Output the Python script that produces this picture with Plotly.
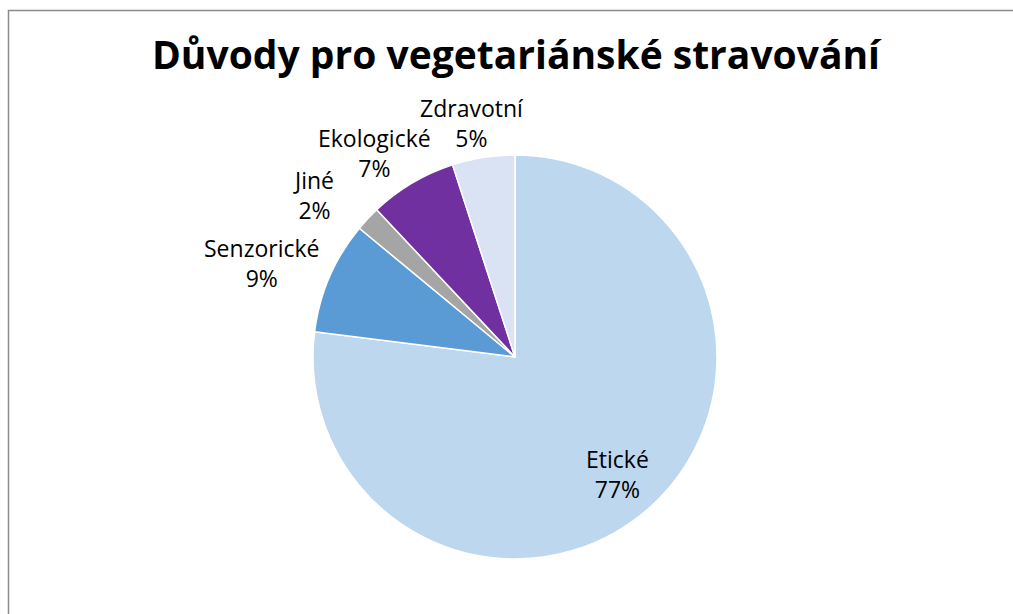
import math
import plotly.graph_objects as go

categories = ["Etické", "Senzorické", "Jiné", "Ekologické", "Zdravotní"]
values = [77, 9, 2, 7, 5]
colors = ["#BDD7EE", "#5B9BD5", "#A5A5A5", "#7030A0", "#DAE3F3"]
label_inside = [True, False, False, False, False]
title_text = "Důvody pro vegetariánské stravování"

W, H = 1013, 614
cx, cy, r = 515, 357, 202
FONT = "Open Sans, Lato, sans-serif"
LABEL_SIZE = 23

fig = go.Figure(go.Pie(
    labels=categories,
    values=values,
    sort=False,
    direction="clockwise",
    rotation=0,
    marker=dict(colors=colors, line=dict(color="white", width=1.5)),
    textinfo="none",
    showlegend=False,
    hoverinfo="label+percent",
    domain=dict(x=[(cx - r) / W, (cx + r) / W], y=[1 - (cy + r) / H, 1 - (cy - r) / H]),
))

# data labels placed along each slice's bisector (Excel-like)
total = sum(values)
annotations = []
cum = 0.0
box_w, box_h = 130, 52
for lab, v, inside in zip(categories, values, label_inside):
    mid = (cum + v / 2) / total
    cum += v
    a = 2 * math.pi * mid
    ux, uy = math.sin(a), -math.cos(a)
    if inside:
        R = 0.77 * r
        px, py = cx + R * ux, cy + R * uy
    else:
        R = r + 9
        px = cx + R * ux + ux * box_w / 2
        py = cy + R * uy + uy * box_h / 2
    annotations.append(dict(
        x=px / W, y=1 - py / H, xref="paper", yref="paper",
        xanchor="center", yanchor="middle", showarrow=False,
        text=f"{lab}<br>{round(100 * v / total)}%",
        font=dict(family=FONT, size=LABEL_SIZE, color="#000000"),
    ))

fig.update_layout(
    width=W, height=H,
    margin=dict(l=0, r=0, t=0, b=0),
    paper_bgcolor="white",
    title=dict(text="<b>" + title_text + "</b>", x=516 / W, xanchor="center",
               y=1 - 55 / H, yanchor="middle",
               font=dict(family=FONT, size=39, color="#000000")),
    annotations=annotations,
    shapes=[dict(type="rect", xref="paper", yref="paper",
                 x0=8.5 / W, x1=1.02, y0=-0.02, y1=1 - 10.5 / H,
                 line=dict(color="#8C8C8C", width=1.5), fillcolor="rgba(0,0,0,0)")],
)

fig.write_html("out.html")
